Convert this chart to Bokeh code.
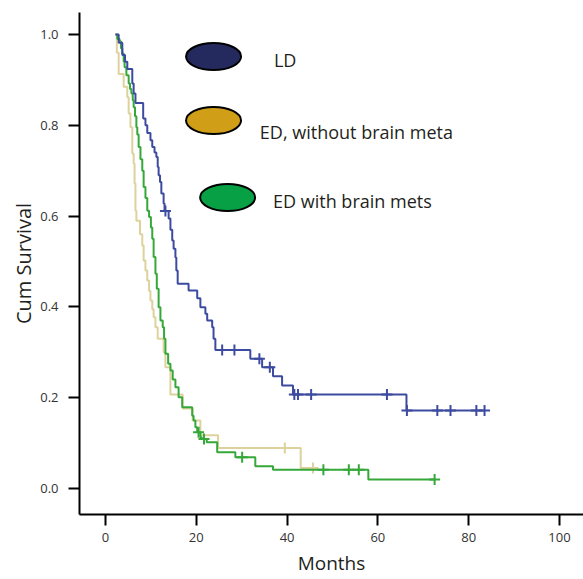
import numpy as np
from bokeh.plotting import figure
from bokeh.models import Range1d, PrintfTickFormatter
from bokeh.core.properties import value
from bokeh.embed import file_html
from bokeh.resources import INLINE

# ---------------- data ----------------
ld_time = [2.2, 2.9, 3.7, 4.3, 4.8, 5.9, 6.2, 6.6, 8.3, 8.8, 9.2, 9.9, 10.3, 10.8,
           11.2, 11.5, 11.7, 12.0, 12.3, 12.8, 13.0, 13.9, 14.3, 14.7, 15.0, 15.4,
           15.6, 15.9, 18.3, 20.2, 20.9, 22.0, 22.4, 23.5, 23.8, 24.2, 31.9, 34.5,
           36.9, 38.9, 41.3, 66.3]
ld_surv = [1.0, 0.982, 0.955, 0.94, 0.924, 0.892, 0.870, 0.849, 0.815, 0.80, 0.783,
           0.767, 0.752, 0.740, 0.730, 0.708, 0.690, 0.675, 0.650, 0.628, 0.611,
           0.595, 0.570, 0.546, 0.528, 0.509, 0.480, 0.451, 0.436, 0.419, 0.399,
           0.385, 0.370, 0.355, 0.330, 0.305, 0.286, 0.267, 0.247, 0.227, 0.207,
           0.172]
ld_censor = [13.2, 25.7, 28.4, 33.9, 36.2, 41.6, 42.4, 45.3, 62.0, 66.4, 73.1,
             76.0, 81.7, 83.5]

edwo_time = [2.2, 2.5, 2.9, 4.0, 4.8, 5.1, 5.5, 5.9, 6.2, 6.4, 6.6, 6.8, 7.6, 8.1,
             8.4, 8.8, 9.2, 9.6, 9.9, 10.3, 10.6, 11.0, 11.5, 12.8, 13.2, 14.3,
             17.0, 19.2, 20.9, 24.8, 43.0]
edwo_surv = [1.0, 0.96, 0.913, 0.885, 0.862, 0.826, 0.796, 0.738, 0.716, 0.672,
             0.612, 0.590, 0.560, 0.535, 0.502, 0.480, 0.458, 0.435, 0.414, 0.395,
             0.377, 0.355, 0.330, 0.300, 0.267, 0.207, 0.176, 0.150, 0.117, 0.089,
             0.045]
edwo_censor = [39.5, 45.7]

edw_time = [2.2, 2.6, 3.1, 3.4, 3.7, 4.0, 4.2, 4.6, 5.1, 5.4, 5.7, 6.0, 6.2, 6.5,
            6.8, 7.0, 7.3, 7.7, 8.1, 8.4, 8.8, 9.2, 9.6, 10.0, 10.3, 10.6, 11.0,
            11.3, 11.7, 12.1, 12.6, 12.9, 13.2, 13.8, 14.3, 14.8, 15.4, 16.1, 16.9,
            19.1, 19.4, 19.8, 20.2, 20.9, 21.2, 22.3, 24.6, 28.6, 33.0, 36.9, 57.9]
edw_surv = [1.0, 0.99, 0.985, 0.97, 0.958, 0.94, 0.928, 0.91, 0.892, 0.88, 0.870,
            0.855, 0.840, 0.82, 0.796, 0.78, 0.752, 0.725, 0.700, 0.664, 0.64,
            0.612, 0.598, 0.575, 0.550, 0.51, 0.473, 0.44, 0.399, 0.370, 0.355,
            0.33, 0.297, 0.275, 0.260, 0.24, 0.223, 0.201, 0.179, 0.160, 0.150,
            0.135, 0.124, 0.113, 0.109, 0.102, 0.080, 0.069, 0.049, 0.041, 0.020]
edw_censor = [20.5, 21.7, 30.1, 48.0, 53.6, 55.8, 72.5]

x_ticks = [0, 20, 40, 60, 80, 100]
y_ticks = [0.0, 0.2, 0.4, 0.6, 0.8, 1.0]

legend_labels = ["LD", "ED, without  brain meta", "ED with brain mets"]

# ---------------- styles ----------------
FONT = "Open Sans"
line_colors = ["#3c4ba0", "#ddd29c", "#36a83a"]
legend_fills = ["#252a5e", "#d19e18", "#08a045"]
# legend layout (data coordinates of the free-floating key)
legend_ell_x = [23.8, 23.8, 26.9]
legend_ell_y = [0.9515, 0.8106, 0.641]
legend_txt_x = [37.1, 34.0, 36.9]
legend_txt_y = [0.944, 0.786, 0.633]

p = figure(width=583, height=579, output_backend="svg", toolbar_location=None,
           x_range=Range1d(-5.73, 105.3), y_range=Range1d(-0.0573, 1.0485),
           min_border_left=79, min_border_right=0, min_border_top=12,
           min_border_bottom=65)
p.outline_line_color = None
p.grid.visible = False
p.background_fill_color = "white"
p.border_fill_color = "white"

series = [(ld_time, ld_surv, ld_censor), (edwo_time, edwo_surv, edwo_censor),
          (edw_time, edw_surv, edw_censor)]
# draw tan first, then green, then blue on top
for idx in [1, 2, 0]:
    t, s, c = series[idx]
    t = np.asarray(t, dtype=float)
    s = np.asarray(s, dtype=float)
    c = np.asarray(c, dtype=float)
    end = max(t[-1], c.max())
    xs = np.append(t, end)
    ys = np.append(s, s[-1])
    p.step(xs, ys, mode="after", line_color=line_colors[idx], line_width=2)
    cy = s[np.searchsorted(t, c, side="right") - 1]
    p.scatter(c, cy, marker="cross", size=11, line_color=line_colors[idx],
              line_width=2)

# key
p.ellipse(x=legend_ell_x, y=legend_ell_y, width=55, height=27,
          width_units="screen", height_units="screen",
          fill_color=legend_fills, line_color="black", line_width=2)
p.text(x=legend_txt_x, y=legend_txt_y, text=legend_labels,
       text_font=value(FONT), text_font_size="18px", text_color="#231f20",
       text_baseline="alphabetic", text_align="left")

for ax in (p.xaxis[0], p.yaxis[0]):
    ax.axis_line_width = 2
    ax.axis_line_color = "black"
    ax.major_tick_line_width = 2
    ax.major_tick_line_color = "black"
    ax.major_tick_out = 11
    ax.major_tick_in = 0
    ax.minor_tick_line_color = None
    ax.major_label_text_font = FONT
    ax.major_label_text_font_size = "13px"
    ax.major_label_text_color = "#333333"
    ax.axis_label_text_font = FONT
    ax.axis_label_text_font_style = "normal"
    ax.axis_label_text_color = "#231f20"

p.xaxis.axis_label_text_font_size = "19px"
p.yaxis.axis_label_text_font_size = "20px"
p.xaxis.ticker = x_ticks
p.yaxis.ticker = y_ticks
p.yaxis.formatter = PrintfTickFormatter(format="%.1f")
p.xaxis.axis_label = "Months"
p.yaxis.axis_label = "Cum Survival"
p.xaxis.major_label_standoff = 7
p.yaxis.major_label_standoff = 10
p.xaxis.axis_label_standoff = 5
p.yaxis.axis_label_standoff = 0

open("out.html", "w").write(file_html(p, INLINE))
